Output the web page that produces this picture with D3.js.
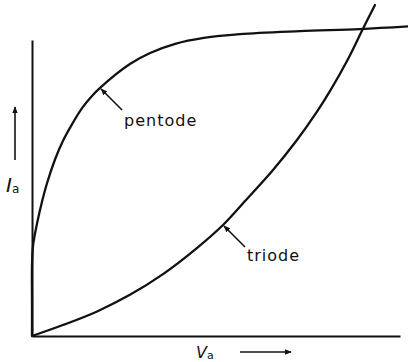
<!DOCTYPE html>
<html>
<head>
<meta charset="utf-8">
<script src="https://cdn.jsdelivr.net/npm/d3@7"></script>
<style>
  html, body { margin: 0; padding: 0; background: #fff; }
  svg { display: block; }
  text { font-family: "DejaVu Sans", sans-serif; fill: #111; }
</style>
</head>
<body>
<svg id="chart" width="408" height="362"></svg>
<script>
// Anode voltage (Va) in arbitrary units, 0..100 along the axis
const pentodeVa = [0, 0, 0, 0.3, 1.4, 2.7, 4.1, 6.3, 8.4, 10.9, 13.6, 16.3, 18.5, 22.6, 26.6, 32.1, 38.9, 46.7, 56.5, 72.8, 89.1, 102.2];
// Anode current (Ia) for the pentode, same units
const pentodeIa = [0, 12.2, 24.0, 30.7, 38.2, 45.3, 51.7, 59.8, 65.9, 71.6, 77.0, 81.1, 83.8, 88.2, 91.9, 95.6, 98.7, 100.7, 102.0, 103.0, 103.7, 104.6];

const triodeVa = [0, 8.4, 17.7, 26.6, 35.6, 44.8, 51.9, 58.4, 65.5, 72.0, 77.4, 81.0, 85.6, 89.9, 93.2];
const triodeIa = [0, 3.7, 8.3, 13.9, 20.9, 29.7, 37.5, 46.3, 56.1, 66.2, 75.7, 82.8, 92.9, 103.7, 111.8];

// Curve labels and the point on each curve their pointer touches
const curveNames = ["pentode", "triode"];
const pointerIndex = [12, 6];

const svg = d3.select("#chart");

const x = d3.scaleLinear().domain([0, 100]).range([32, 400]);
const y = d3.scaleLinear().domain([0, 100]).range([336, 40]);

// Arrowhead used by the pointers and the axis direction arrows
const defs = svg.append("defs");
defs.append("marker")
  .attr("id", "head")
  .attr("viewBox", "0 0 10 10")
  .attr("refX", 9).attr("refY", 5)
  .attr("markerWidth", 7).attr("markerHeight", 7)
  .attr("markerUnits", "userSpaceOnUse")
  .attr("orient", "auto")
  .append("path")
  .attr("d", "M0,1 L10,5 L0,9 Z")
  .attr("fill", "#111");

// Axes: bare lines, no ticks
const xAxis = d3.axisBottom(x).tickValues([]).tickSizeOuter(0);
const yAxis = d3.axisLeft(y).tickValues([]).tickSizeOuter(0);
svg.append("g").attr("transform", `translate(0,${y(0)})`).call(xAxis)
  .select(".domain").attr("stroke", "#111").attr("stroke-width", 2);
svg.append("g").attr("transform", `translate(${x(0)},0)`).call(yAxis)
  .select(".domain").attr("stroke", "#111").attr("stroke-width", 2);

// Characteristic curves
const line = d3.line()
  .x(d => x(d[0]))
  .y(d => y(d[1]))
  .curve(d3.curveCatmullRom.alpha(0.5));

const series = [
  d3.zip(pentodeVa, pentodeIa),
  d3.zip(triodeVa, triodeIa)
];

svg.selectAll("path.curve")
  .data(series)
  .join("path")
  .attr("class", "curve")
  .attr("d", line)
  .attr("fill", "none")
  .attr("stroke", "#111")
  .attr("stroke-width", 2.3)
  .attr("stroke-linejoin", "round")
  .attr("stroke-linecap", "round");

// Pointers from each label to its curve
series.forEach((pts, i) => {
  const p = pts[pointerIndex[i]];
  const tx = x(p[0]), ty = y(p[1]);
  svg.append("line")
    .attr("x1", tx + 22).attr("y1", ty + 22)
    .attr("x2", tx + 1).attr("y2", ty + 1)
    .attr("stroke", "#111")
    .attr("stroke-width", 1.6)
    .attr("marker-end", "url(#head)");
  svg.append("text")
    .attr("x", tx + 24)
    .attr("y", ty + (i === 0 ? 38 : 36))
    .attr("font-size", 16)
    .attr("letter-spacing", 1)
    .text(curveNames[i]);
});

// Axis titles with direction arrows
const yTitle = svg.append("text")
  .attr("x", 6).attr("y", 192)
  .attr("font-size", 20)
  .attr("font-style", "italic")
  .attr("font-family", "Liberation Serif, serif");
yTitle.append("tspan").text("I");
yTitle.append("tspan").attr("font-size", 12).attr("dy", 1).attr("font-style", "normal")
  .attr("font-family", "DejaVu Sans, sans-serif").text("a");

svg.append("line")
  .attr("x1", 15).attr("y1", 160)
  .attr("x2", 15).attr("y2", 107)
  .attr("stroke", "#111").attr("stroke-width", 1.6)
  .attr("marker-end", "url(#head)");

const xTitle = svg.append("text")
  .attr("x", 196).attr("y", 358)
  .attr("font-size", 16)
  .attr("font-style", "italic")
  .attr("font-family", "Liberation Serif, serif");
xTitle.append("tspan").text("V");
xTitle.append("tspan").attr("font-size", 11).attr("dy", 1).attr("font-style", "normal")
  .attr("font-family", "DejaVu Sans, sans-serif").text("a");

svg.append("line")
  .attr("x1", 240).attr("y1", 352)
  .attr("x2", 291).attr("y2", 352)
  .attr("stroke", "#111").attr("stroke-width", 1.6)
  .attr("marker-end", "url(#head)");
</script>
</body>
</html>
